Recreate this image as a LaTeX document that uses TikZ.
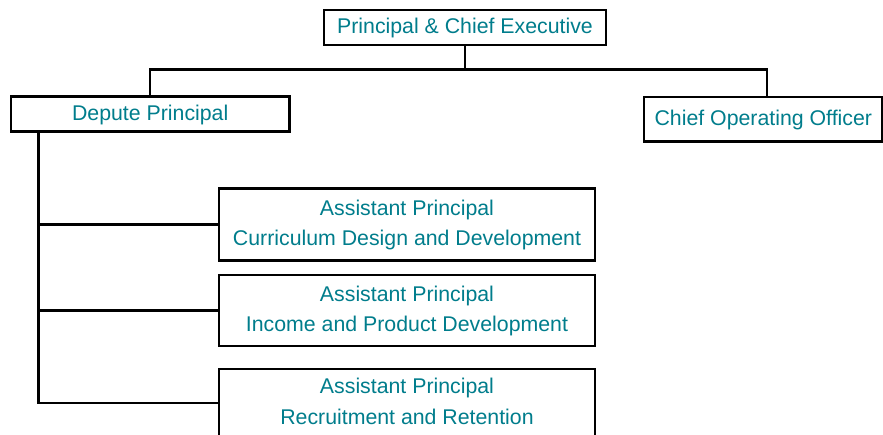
\documentclass[tikz,border=0pt]{standalone}
\usepackage{fontspec}
\setmainfont{Liberation Sans}
\definecolor{titleteal}{RGB}{0,125,140}
% post title, set a little below the box centre
\newcommand{\posttitle}[1]{\raisebox{-3pt}{\begin{tabular}{@{}c@{}}#1\end{tabular}}}
\begin{document}
\begin{tikzpicture}[x=1pt,y=-1pt,
  post/.style={draw=black, line width=2.3pt, fill=white, inner sep=0pt,
    text=titleteal, font=\fontsize{21.3}{30.5}\selectfont},
  link/.style={draw=black, line width=2.3pt}]
\useasboundingbox (0,0) rectangle (883,435);
\fill[white] (0,0) rectangle (883,435);

% posts
\node[post, minimum width=282pt, minimum height=35pt] (ceo) at (465,27.2) {\posttitle{Principal \& Chief Executive}};
\node[post, minimum width=278.5pt, minimum height=35pt] (dep) at (150.2,114) {\posttitle{Depute Principal}};
\node[post, minimum width=238.5pt, minimum height=44.7pt] (coo) at (763.3,119.3) {\posttitle{Chief Operating Officer}};
\node[post, minimum width=376pt, minimum height=72pt] (ap1) at (407,224.5) {\posttitle{Assistant Principal\\Curriculum Design and Development}};
\node[post, minimum width=376pt, minimum height=71pt] (ap2) at (407,310.5) {\posttitle{Assistant Principal\\Income and Product Development}};
\node[post, minimum width=376pt, minimum height=67.5pt] (ap3) at (407,403) {\posttitle{Assistant Principal\\Recruitment and Retention}};

% junction points of the tree
\coordinate (bar) at (465,69.5);
\coordinate (cooin) at (767,69.5);
\coordinate (spine) at (38.5,131.5);

% connectors
\draw[link] (ceo.south) -- (bar);
\draw[link] (bar) -| (dep.north);
\draw[link] (bar) -- (cooin) -- (cooin |- coo.north);
\draw[link] (spine) |- (ap3.west);
\draw[link] (spine) |- (ap1.west);
\draw[link] (spine) |- (ap2.west);
\end{tikzpicture}
\end{document}
